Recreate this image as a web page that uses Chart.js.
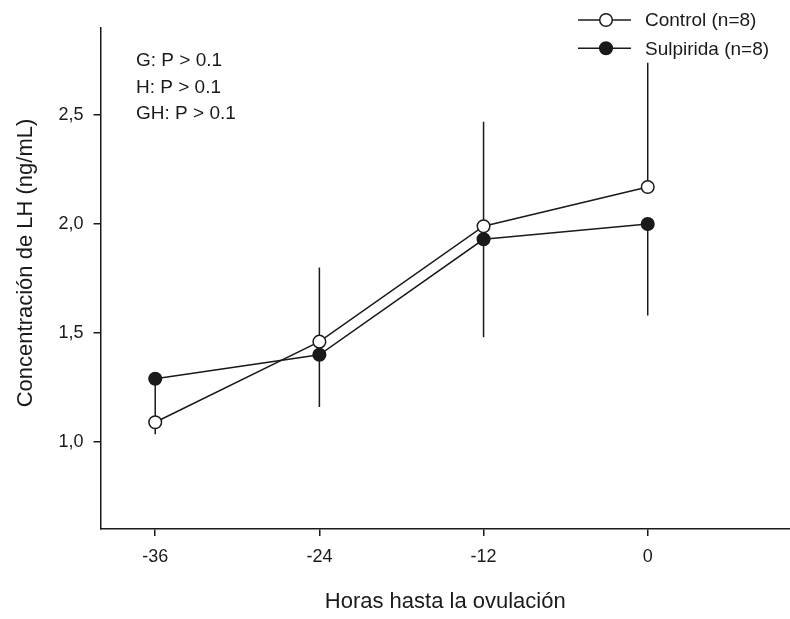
<!DOCTYPE html>
<html>
<head>
<meta charset="utf-8">
<script src="https://cdn.jsdelivr.net/npm/chart.js@4.4.1/dist/chart.umd.min.js"></script>
<style>
    html, body { margin: 0; padding: 0; background: #fff; }
    #wrap { width: 790px; height: 619px; }
</style>
</head>
<body>
<div id="wrap"><canvas id="graficaLH" width="790" height="619"></canvas></div>
<script>
const horas = [-36, -24, -12, 0];
const control = [1.09, 1.46, 1.99, 2.17];
const sulpirida = [1.29, 1.40, 1.93, 2.00];
// EEM: control hacia arriba, sulpirida hacia abajo
const controlEEM = [0.15, 0.34, 0.48, 0.57];
const sulpiridaEEM = [0.255, 0.24, 0.45, 0.42];
const ticksX = [-36, -24, -12, 0];
const ticksY = [1.0, 1.5, 2.0, 2.5];
const leyendas = ["Control (n=8)", "Sulpirida (n=8)"];
const notas = ["G: P > 0.1", "H: P > 0.1", "GH: P > 0.1"];

const fuente = "'Liberation Sans', Arial, sans-serif";
const negro = "#1a1a1a";

const barrasError = {
    id: "barrasError",
    beforeDatasetsDraw(chart) {
        const ctx = chart.ctx;
        const x = chart.scales.x;
        const y = chart.scales.y;
        ctx.save();
        ctx.strokeStyle = negro;
        ctx.lineWidth = 1.5;
        horas.forEach((h, i) => {
            const px = x.getPixelForValue(h);
            ctx.beginPath();
            ctx.moveTo(px, y.getPixelForValue(control[i]));
            ctx.lineTo(px, y.getPixelForValue(control[i] + controlEEM[i]));
            ctx.moveTo(px, y.getPixelForValue(sulpirida[i]));
            ctx.lineTo(px, y.getPixelForValue(sulpirida[i] - sulpiridaEEM[i]));
            ctx.stroke();
        });
        ctx.restore();
    }
};

const textos = {
    id: "textos",
    afterDraw(chart) {
        const ctx = chart.ctx;
        ctx.save();
        ctx.fillStyle = negro;

        // notas estadisticas
        ctx.font = "19px " + fuente;
        ctx.textAlign = "left";
        ctx.textBaseline = "alphabetic";
        notas.forEach((t, i) => ctx.fillText(t, 136, 66 + i * 26.7));

        // leyenda
        const rellenos = ["#ffffff", negro];
        leyendas.forEach((t, i) => {
            const ly = 20 + i * 28.3;
            ctx.strokeStyle = negro;
            ctx.lineWidth = 1.5;
            ctx.beginPath();
            ctx.moveTo(578, ly);
            ctx.lineTo(631, ly);
            ctx.stroke();
            ctx.beginPath();
            ctx.arc(606, ly, 6.3, 0, Math.PI * 2);
            ctx.fillStyle = rellenos[i];
            ctx.fill();
            ctx.stroke();
            ctx.fillStyle = negro;
            ctx.textBaseline = "middle";
            ctx.fillText(t, 645, ly + 1);
        });

        // titulo eje Y
        ctx.font = "22px " + fuente;
        ctx.translate(26, 263);
        ctx.rotate(-Math.PI / 2);
        ctx.textAlign = "center";
        ctx.textBaseline = "middle";
        ctx.fillText("Concentración de LH (ng/mL)", 0, 0);
        ctx.restore();
    }
};

function crearGrafica() {
    const ctx = document.getElementById("graficaLH").getContext("2d");

    new Chart(ctx, {
        type: "line",
        data: {
            datasets: [
                {
                    label: leyendas[0],
                    data: horas.map((h, i) => ({ x: h, y: control[i] })),
                    borderColor: negro,
                    borderWidth: 1.5,
                    pointStyle: "circle",
                    pointRadius: 6.3,
                    pointBackgroundColor: "#ffffff",
                    pointBorderColor: negro,
                    pointBorderWidth: 1.5,
                    tension: 0,
                    order: 2
                },
                {
                    label: leyendas[1],
                    data: horas.map((h, i) => ({ x: h, y: sulpirida[i] })),
                    borderColor: negro,
                    borderWidth: 1.5,
                    pointStyle: "circle",
                    pointRadius: 6.3,
                    pointBackgroundColor: negro,
                    pointBorderColor: negro,
                    pointBorderWidth: 1.5,
                    tension: 0,
                    order: 1
                }
            ]
        },
        options: {
            responsive: false,
            animation: false,
            layout: { autoPadding: false, padding: { top: 28, right: 0, left: 0, bottom: 0 } },
            plugins: {
                legend: { display: false },
                tooltip: { enabled: false }
            },
            scales: {
                x: {
                    type: "linear",
                    min: -40,
                    max: 10.4,
                    afterBuildTicks: s => { s.ticks = ticksX.map(v => ({ value: v })); },
                    afterFit: s => {
                        s.height = 90;
                        s.paddingLeft = 0;
                        s.paddingRight = 0;
                    },
                    grid: { drawOnChartArea: false, drawTicks: true, tickLength: 7, color: negro, lineWidth: 1.5 },
                    border: { display: true, color: negro, width: 1.5 },
                    ticks: {
                        color: negro,
                        padding: 10,
                        font: { family: fuente, size: 18 },
                        callback: v => String(v)
                    },
                    title: {
                        display: true,
                        text: "Horas hasta la ovulación",
                        color: negro,
                        font: { family: fuente, size: 22 },
                        padding: { top: 14 }
                    }
                },
                y: {
                    min: 0.6,
                    max: 2.9,
                    afterBuildTicks: s => { s.ticks = ticksY.map(v => ({ value: v })); },
                    afterFit: s => {
                        s.width = 100.5;
                        s.paddingTop = 0;
                        s.paddingBottom = 0;
                    },
                    grid: { drawOnChartArea: false, drawTicks: true, tickLength: 7, color: negro, lineWidth: 1.5 },
                    border: { display: true, color: negro, width: 1.5 },
                    ticks: {
                        color: negro,
                        padding: 10,
                        font: { family: fuente, size: 18 },
                        callback: v => v.toFixed(1).replace(".", ",")
                    }
                }
            }
        },
        plugins: [barrasError, textos]
    });
}

document.addEventListener("DOMContentLoaded", () => {
    crearGrafica();
});
</script>
</body>
</html>
